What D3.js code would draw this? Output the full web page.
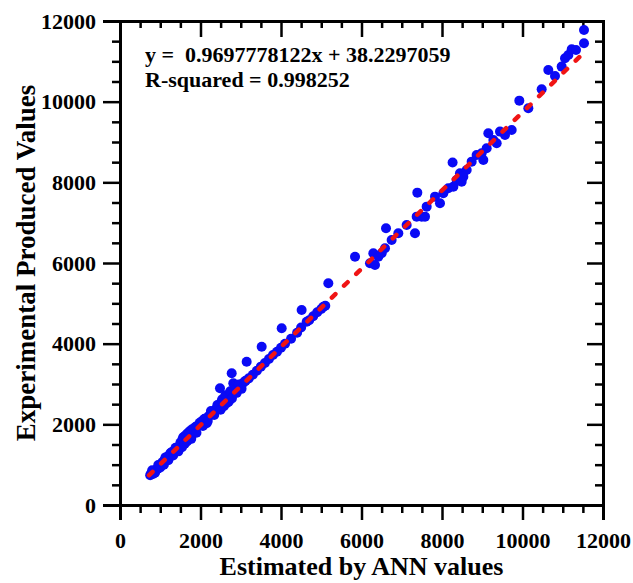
<!DOCTYPE html>
<html lang="en">
<head>
    <meta charset="UTF-8">
    <title>Experimental vs ANN</title>
    <script src="https://d3js.org/d3.v7.min.js"></script>
    <style>
        body { margin: 0; background: #fff; }
        svg text { font-family: "Liberation Serif", "Times New Roman", serif; font-weight: bold; fill: #000; }
        .axis path, .axis line { stroke: #000; }
        .axis line { stroke-width: 2.5; }
    </style>
</head>
<body>
<svg id="chart" width="633" height="583"></svg>
<script>
    // estimated (ANN) values
    const estX = [
        750, 780, 820, 860, 900, 940, 980, 1020, 1050, 1080, 1110, 1150, 1180, 1210, 1240, 1270,
        1300, 1330, 1360, 1400, 1430, 1460, 1490, 1520, 1550, 1570, 1600, 1620, 1650, 1680, 1700,
        1730, 1760, 1790, 1820, 1850, 1880, 1920, 1960, 2000, 2040, 2080, 2120, 2153, 2200, 2240,
        2280, 2320, 2360, 2400, 2440, 2480, 2484, 2520, 2560, 2600, 2650, 2680, 2720, 2760, 2775,
        2800, 2815, 2840, 2880, 2920, 2960, 3000, 3050, 3100, 3147, 3200, 3300, 3400, 3520, 3500,
        3600, 3700, 3800, 3900, 4000, 4017, 4100, 4250, 4400, 4513, 4500, 4638, 4700, 4800, 4900,
        5000, 5052, 5100, 5176, 5839, 6211, 6294, 6335, 6418, 6501, 6584, 6609, 6749, 6915, 7122,
        7329, 7387, 7371, 7495, 7578, 7619, 7826, 7950, 8033, 8157, 8282, 8364, 8488, 8447, 8613,
        8530, 8263, 8737, 8861, 8985, 9027, 9110, 9151, 9276, 9358, 9441, 9565, 9731, 9921, 10145,
        10476, 10641, 10807, 10973, 11056, 11139, 11222, 11329, 11528, 11528,
        800, 870, 950, 1000, 1090, 1130, 1200, 1260, 1320, 1380, 1450, 1500, 1540, 1580, 1610,
        1640, 1670, 1720, 1770, 1830, 1900, 1980, 2060, 2100, 2180, 2260, 2340, 2420, 2500, 2540,
        2580, 2620, 2700, 2740, 2780, 2850, 2900, 2950, 3020, 3120
    ];
    // experimental produced values
    const expY = [
        740, 790, 770, 830, 880, 900, 950, 1010, 1060, 1030, 1120, 1160, 1200, 1180, 1260, 1300,
        1270, 1340, 1330, 1360, 1400, 1440, 1480, 1560, 1620, 1680, 1700, 1650, 1750, 1780, 1720,
        1830, 1800, 1880, 1850, 1900, 1940, 1960, 1980, 2010, 2080, 2060, 2140, 2025, 2200, 2230,
        2290, 2260, 2350, 2400, 2470, 2430, 2893, 2560, 2520, 2600, 2521, 2700, 2660, 2750, 3265,
        2800, 3017, 2770, 2860, 2900, 2940, 2980, 3020, 3060, 3553, 3140, 3230, 3330, 3925, 3430,
        3520, 3620, 3720, 3800, 3900, 4381, 4000, 4120, 4270, 4835, 4400, 4545, 4580, 4680, 4780,
        4860, 4917, 4940, 5497, 6157, 5993, 6241, 5951, 6157, 6241, 6365, 6861, 6571, 6737, 6943,
        6737, 7744, 7149, 7149, 7149, 7397, 7645, 7480, 7728, 7852, 7893, 8059, 8017, 8224, 8307,
        8141, 8493, 8513, 8679, 8721, 8555, 8845, 9217, 9051, 8969, 9258, 9175, 9299, 10025, 9836,
        10308, 10786, 10637, 10869, 11076, 11158, 11299, 11282, 11448, 11778,
        860, 800, 990, 930, 1000, 1180, 1110, 1290, 1230, 1420, 1330, 1540, 1430, 1660, 1520,
        1720, 1580, 1760, 1640, 1880, 1790, 2040, 1960, 2140, 2080, 2330, 2230, 2480, 2360, 2620,
        2450, 2720, 2560, 2820, 2640, 2950, 2780, 2990, 2880, 3080
    ];

    // fitted line, from the equation in the chart
    const slope = 0.9697778122, intercept = 38.2297059;
    const fitX = [720, 11450];
    const eqLines = ["y =  0.9697778122x + 38.2297059", "R-squared = 0.998252"];

    const svg = d3.select("#chart");
    const mLeft = 120, mRight = 603, mTop = 21, mBottom = 505;

    const x = d3.scaleLinear().domain([0, 12000]).range([mLeft, mRight]);
    const y = d3.scaleLinear().domain([0, 12000]).range([mBottom, mTop]);

    const major = d3.range(0, 12001, 2000);
    const minor = d3.range(0, 12001, 500).filter(v => v % 2000 !== 0);

    function addAxis(axisFn, scale, pos, size, labels) {
        const g = svg.append("g").attr("class", "axis").attr("transform", pos);
        g.call(axisFn(scale).tickValues(minor).tickSize(size[1]).tickFormat(""));
        const g2 = svg.append("g").attr("class", "axis").attr("transform", pos);
        g2.call(axisFn(scale).tickValues(major).tickSize(size[0]).tickPadding(6)
            .tickFormat(labels ? d3.format("d") : ""));
        g2.selectAll("text").style("font-size", "22px");
        return g2;
    }

    addAxis(d3.axisBottom, x, `translate(0,${mBottom})`, [15, 8], true)
        .selectAll("text").attr("dy", "1.0em");
    addAxis(d3.axisTop, x, `translate(0,${mTop})`, [-16, -7], false);
    addAxis(d3.axisLeft, y, `translate(${mLeft},0)`, [17, 8], true)
        .selectAll("text").attr("dx", "-1px");
    addAxis(d3.axisRight, y, `translate(${mRight},0)`, [-16, -8], false);
    svg.selectAll(".axis .domain").attr("stroke-width", 3);

    // points
    svg.append("g")
        .selectAll("circle")
        .data(estX)
        .enter()
        .append("circle")
        .attr("cx", d => x(d))
        .attr("cy", (d, i) => y(expY[i]))
        .attr("r", 5)
        .attr("fill", "#0a0af5");

    // dotted fit line
    svg.append("path")
        .datum(fitX)
        .attr("d", d3.line().x(d => x(d)).y(d => y(slope * d + intercept)))
        .attr("stroke", "#f01414")
        .attr("stroke-width", 4.5)
        .attr("stroke-linecap", "round")
        .attr("stroke-dasharray", "5 12")
        .attr("fill", "none");

    // equation
    svg.selectAll(".eq")
        .data(eqLines)
        .enter()
        .append("text")
        .attr("class", "eq")
        .attr("x", 145)
        .attr("y", (d, i) => 62 + i * 25)
        .style("font-size", "22px")
        .style("white-space", "pre")
        .text(d => d);

    // axis titles
    svg.append("text")
        .attr("x", (mLeft + mRight) / 2)
        .attr("y", 575)
        .attr("text-anchor", "middle")
        .style("font-size", "26px")
        .text("Estimated by ANN values");

    svg.append("text")
        .attr("transform", `translate(35,${(mTop + mBottom) / 2}) rotate(-90)`)
        .attr("text-anchor", "middle")
        .style("font-size", "27px")
        .text("Experimental Produced Values");
</script>
</body>
</html>
